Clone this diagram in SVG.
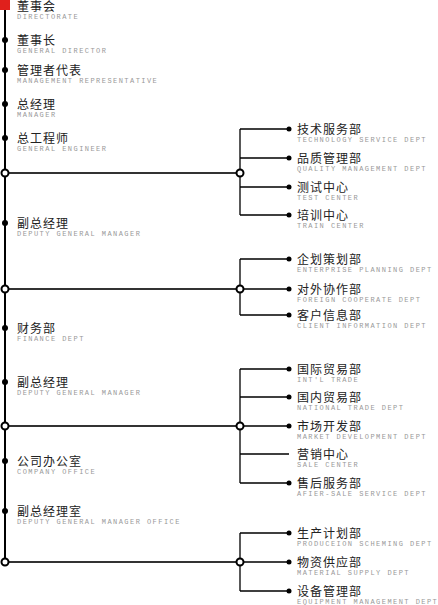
<svg xmlns="http://www.w3.org/2000/svg" width="438" height="605" viewBox="0 0 438 605">
<style>
.cn{font-family:"Noto Sans CJK SC","Noto Sans",sans-serif;font-size:12px;fill:#222;letter-spacing:1px}
.en{font-family:"Liberation Mono","DejaVu Sans Mono",monospace;font-size:7px;fill:#999;letter-spacing:1.45px}
.dot{fill:#000}
.oc{fill:#fff;stroke:#000;stroke-width:2}
.main{stroke:#000;stroke-width:2;fill:none}
.hl{stroke:#333;stroke-width:2;fill:none}
.br{stroke:#000;stroke-width:1.3;fill:none}
</style>
<rect width="438" height="605" fill="#fff"/>
<g id="connectors">
<line class="main" x1="5" y1="5" x2="5" y2="563"/>
<line class="hl" x1="5" y1="173" x2="240" y2="173"/>
<line class="hl" x1="5" y1="289" x2="240" y2="289"/>
<line class="hl" x1="5" y1="426" x2="240" y2="426"/>
<line class="hl" x1="5" y1="562" x2="240" y2="562"/>
<path class="br" d="M240,129V215M240,129H289M240,158H289M240,187H289M240,215H289"/>
<path class="br" d="M240,259V315M240,259H289M240,289H289M240,315H289"/>
<path class="br" d="M240,369V483M240,369H289M240,397H289M240,426H289M240,454H289M240,483H289"/>
<path class="br" d="M240,533V591M240,533H289M240,562H289M240,591H289"/>
<circle class="oc" cx="5" cy="173" r="3.5"/>
<circle class="oc" cx="5" cy="289" r="3.5"/>
<circle class="oc" cx="5" cy="426" r="3.5"/>
<circle class="oc" cx="5" cy="562" r="3.5"/>
<circle class="oc" cx="240" cy="173" r="3.5"/>
<circle class="oc" cx="240" cy="289" r="3.5"/>
<circle class="oc" cx="240" cy="426" r="3.5"/>
<circle class="oc" cx="240" cy="562" r="3.5"/>
</g>
<g id="directorate"><rect x="0" y="0" width="10" height="10" fill="#e0201c"/><text class="cn" x="17" y="11">董事会</text><text class="en" x="17" y="19">DIRECTORATE</text></g>
<g id="general-director"><circle class="dot" cx="5" cy="40" r="3"/><text class="cn" x="17" y="45">董事长</text><text class="en" x="17" y="53">GENERAL DIRECTOR</text></g>
<g id="mgmt-rep"><circle class="dot" cx="5" cy="70" r="3"/><text class="cn" x="17" y="75">管理者代表</text><text class="en" x="17" y="83">MANAGEMENT REPRESENTATIVE</text></g>
<g id="manager"><circle class="dot" cx="5" cy="104" r="3"/><text class="cn" x="17" y="109">总经理</text><text class="en" x="17" y="117">MANAGER</text></g>
<g id="general-engineer"><circle class="dot" cx="5" cy="138" r="3"/><text class="cn" x="17" y="143">总工程师</text><text class="en" x="17" y="151">GENERAL ENGINEER</text></g>
<g id="deputy1"><circle class="dot" cx="5" cy="223" r="3"/><text class="cn" x="17" y="228">副总经理</text><text class="en" x="17" y="236">DEPUTY GENERAL MANAGER</text></g>
<g id="finance"><circle class="dot" cx="5" cy="328" r="3"/><text class="cn" x="17" y="333">财务部</text><text class="en" x="17" y="341">FINANCE DEPT</text></g>
<g id="deputy2"><circle class="dot" cx="5" cy="382" r="3"/><text class="cn" x="17" y="387">副总经理</text><text class="en" x="17" y="395">DEPUTY GENERAL MANAGER</text></g>
<g id="company-office"><circle class="dot" cx="5" cy="461" r="3"/><text class="cn" x="17" y="466">公司办公室</text><text class="en" x="17" y="474">COMPANY OFFICE</text></g>
<g id="deputy-office"><circle class="dot" cx="5" cy="511" r="3"/><text class="cn" x="17" y="516">副总经理室</text><text class="en" x="17" y="524">DEPUTY GENERAL MANAGER OFFICE</text></g>
<g id="tech-service"><circle class="dot" cx="289" cy="129" r="2.5"/><text class="cn" x="297" y="134">技术服务部</text><text class="en" x="297" y="142">TECHNOLOGY SERVICE DEPT</text></g>
<g id="quality"><circle class="dot" cx="289" cy="158" r="2.5"/><text class="cn" x="297" y="163">品质管理部</text><text class="en" x="297" y="171">QUALITY MANAGEMENT DEPT</text></g>
<g id="test"><circle class="dot" cx="289" cy="187" r="2.5"/><text class="cn" x="297" y="192">测试中心</text><text class="en" x="297" y="200">TEST CENTER</text></g>
<g id="train"><circle class="dot" cx="289" cy="215" r="2.5"/><text class="cn" x="297" y="220">培训中心</text><text class="en" x="297" y="228">TRAIN CENTER</text></g>
<g id="enterprise-planning"><circle class="dot" cx="289" cy="259" r="2.5"/><text class="cn" x="297" y="264">企划策划部</text><text class="en" x="297" y="272">ENTERPRISE PLANNING DEPT</text></g>
<g id="foreign"><circle class="dot" cx="289" cy="289" r="2.5"/><text class="cn" x="297" y="294">对外协作部</text><text class="en" x="297" y="302">FOREIGN COOPERATE DEPT</text></g>
<g id="client"><circle class="dot" cx="289" cy="315" r="2.5"/><text class="cn" x="297" y="320">客户信息部</text><text class="en" x="297" y="328">CLIENT INFORMATION DEPT</text></g>
<g id="intl-trade"><circle class="dot" cx="289" cy="369" r="2.5"/><text class="cn" x="297" y="374">国际贸易部</text><text class="en" x="297" y="382">INT'L TRADE</text></g>
<g id="national-trade"><circle class="dot" cx="289" cy="397" r="2.5"/><text class="cn" x="297" y="402">国内贸易部</text><text class="en" x="297" y="410">NATIONAL TRADE DEPT</text></g>
<g id="market"><circle class="dot" cx="289" cy="426" r="2.5"/><text class="cn" x="297" y="431">市场开发部</text><text class="en" x="297" y="439">MARKET DEVELOPMENT DEPT</text></g>
<g id="sale"><text class="cn" x="297" y="459">营销中心</text><text class="en" x="297" y="467">SALE CENTER</text></g>
<g id="after-sale"><circle class="dot" cx="289" cy="483" r="2.5"/><text class="cn" x="297" y="488">售后服务部</text><text class="en" x="297" y="496">AFIER-SALE SERVICE DEPT</text></g>
<g id="production"><circle class="dot" cx="289" cy="533" r="2.5"/><text class="cn" x="297" y="538">生产计划部</text><text class="en" x="297" y="546">PRODUCEION SCHEMING DEPT</text></g>
<g id="material"><circle class="dot" cx="289" cy="562" r="2.5"/><text class="cn" x="297" y="567">物资供应部</text><text class="en" x="297" y="575">MATERIAL SUPPLY DEPT</text></g>
<g id="equipment"><circle class="dot" cx="289" cy="591" r="2.5"/><text class="cn" x="297" y="596">设备管理部</text><text class="en" x="297" y="604">EQUIPMENT MANAGEMENT DEPT</text></g>
</svg>
